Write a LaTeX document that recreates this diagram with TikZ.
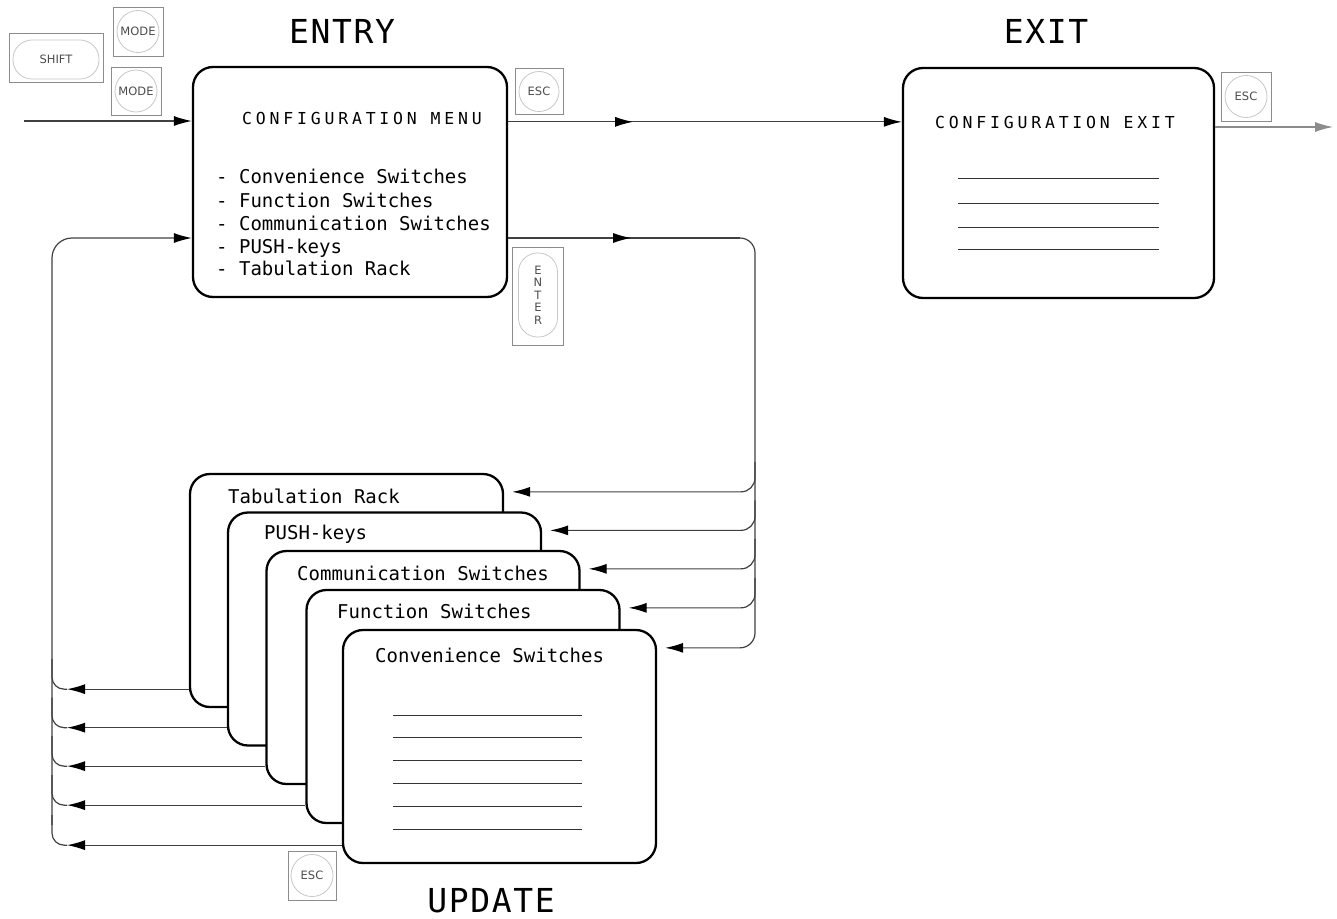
\documentclass[tikz,border=0pt]{standalone}
\usepackage{fontspec}
\setmonofont{DejaVu Sans Mono}
\setsansfont{DejaVu Sans}
\newfontfamily\titlefont{DejaVu Sans Mono}[LetterSpace=5]
\newfontfamily\headfont{DejaVu Sans Mono}[LetterSpace=23]
\usetikzlibrary{arrows.meta,calc,decorations.markings}

\begin{document}
\begin{tikzpicture}[x=1pt,y=-1pt,
  box/.style={draw=black, line width=2.3pt, rounded corners=20pt, fill=white, inner sep=0pt},
  card/.style={box, minimum width=313pt, minimum height=233pt},
  wire/.style={draw=black!75, line width=1.2pt},
  tip/.style={-{Latex[length=18pt,width=10pt,color=black]}},
  midtip/.style={postaction={decorate}, decoration={markings,
      mark=at position #1 with {\arrow{Latex[length=18pt,width=10pt,color=black]}}}},
  keybox/.style={draw=black!45, line width=1pt, inner sep=0pt},
  keycap/.style={draw=black!22, line width=0.8pt, inner sep=0pt,
      font=\sffamily\fontsize{11.5}{13}\selectfont, text=black!70},
  title/.style={font=\titlefont\fontsize{33}{40}\selectfont, anchor=base, inner sep=0pt},
  head/.style={font=\headfont\fontsize{16.5}{20}\selectfont, anchor=base west, inner sep=0pt},
  item/.style={font=\ttfamily\fontsize{19}{23}\selectfont, anchor=base west, inner sep=0pt},
  rule/.style={draw=black!80, line width=1pt}]

\useasboundingbox (0,0) rectangle (1337,918);

% ---------- titles ----------
\node[title] (entrytitle)  at (342,43)  {ENTRY};
\node[title] (exittitle)   at (1046,43) {EXIT};
\node[title] (updatetitle) at (491,912) {UPDATE};

% ---------- configuration menu ----------
\node[box, minimum width=314pt, minimum height=230pt] (menu) at (350,182) {};
\node[head] (menuhead) at (242,124) {CONFIGURATION MENU};
\node[item] (m1) at (216,183) {- Convenience Switches};
\node[item] (m2) at (216,207) {- Function Switches};
\node[item] (m3) at (216,230) {- Communication Switches};
\node[item] (m4) at (216,253) {- PUSH-keys};
\node[item] (m5) at (216,275) {- Tabulation Rack};

% ---------- configuration exit ----------
\node[box, minimum width=311pt, minimum height=230pt] (exit) at (1058.5,183) {};
\node[head] (exithead) at (935,128) {CONFIGURATION EXIT};
\foreach \y in {178,203,227,249} \draw[rule] (958,\y) -- (1159,\y);

% ---------- update cards, back to front ----------
\node[card] (tab)  at (346.5,590.5) {};
\node[item] (tabl) at (228,503) {Tabulation Rack};
\node[card] (push) at (384.5,629) {};
\node[item] (pushl) at (264,539) {PUSH-keys};
\node[card] (comm) at (423,667.5) {};
\node[item] (comml) at (297,580) {Communication Switches};
\node[card] (func) at (463,706.5) {};
\node[item] (funcl) at (337,618) {Function Switches};
\node[card] (conv) at (499.5,746.5) {};
\node[item] (convl) at (375,662) {Convenience Switches};
\foreach \y in {715,737,760,783,806,829} \draw[rule] (393,\y) -- (582,\y);

% ---------- keys ----------
\node[keybox, minimum width=94pt, minimum height=49pt] (shiftkey) at (56,57.5) {};
\node[keycap, rounded corners=19pt, minimum width=86pt, minimum height=39pt] (shiftcap) at (56,59.5) {SHIFT};
\node[keybox, minimum width=50pt, minimum height=49pt] (modekeya) at (138,31.5) {};
\node[keycap, circle, minimum size=42pt] (modecapa) at (138,31.5) {MODE};
\node[keybox, minimum width=50pt, minimum height=48pt] (modekeyb) at (136,91) {};
\node[keycap, circle, minimum size=42pt] (modecapb) at (136,91) {MODE};
\node[keybox, minimum width=48pt, minimum height=46pt] (esckeya) at (539,91.5) {};
\node[keycap, circle, minimum size=40pt] (esccapa) at (539,91.5) {ESC};
\node[keybox, minimum width=51pt, minimum height=98pt] (enterkey) at (538,296) {};
\node[keycap, rounded corners=19pt, minimum width=39pt, minimum height=84pt, align=center,
      font=\sffamily\fontsize{11.5}{12.5}\selectfont] (entercap) at (538,295) {E\\N\\T\\E\\R};
\node[keybox, minimum width=50pt, minimum height=49pt] (esckeyb) at (1246,96.5) {};
\node[keycap, circle, minimum size=42pt] (esccapb) at (1246,96.5) {ESC};
\node[keybox, minimum width=48pt, minimum height=49pt] (esckeyc) at (312,875.5) {};
\node[keycap, circle, minimum size=42pt] (esccapc) at (312,875.5) {ESC};

% ---------- connectors ----------
% into the menu
\coordinate (start) at (24,121);
\draw[wire, tip] (start) -- (start -| menu.west);

% ESC: menu -> exit
\coordinate (escout) at ($(menu.north east)+(0,56)$);
\draw[wire, tip, midtip=125pt] (escout) -- (escout -| exit.west);

% ESC: leave the exit screen
\coordinate (leave) at (1333,127);
\draw[wire, draw=black!45, -{Latex[length=18pt,width=10pt,color=black!45]}]
  (leave -| exit.east) -- (leave);

% ENTER: menu -> update cards
\coordinate (rbus) at (755,238);
\coordinate (enterout) at (rbus -| menu.east);
\coordinate (enterturn) at ($(rbus)+(-15,0)$);
\draw[wire, midtip=123pt] (enterout) -- (enterturn);
\foreach \c in {tab,push,comm,func,conv}
  \coordinate (l\c) at ($(\c.north east)+(0,19)$);
\draw[wire, tip, rounded corners=15pt] (enterturn) -- (rbus) -- (lconv -| rbus) -- ($(lconv)+(8,0)$);
\foreach \c in {tab,push,comm,func}
  \draw[wire, tip, rounded corners=14pt] ($(l\c -| rbus)+(0,-30)$) -- (l\c -| rbus) -- ($(l\c)+(8,0)$);

% ESC: update cards -> back to the menu
\coordinate (lbus) at (52,238);
\foreach \c in {tab,push,comm,func,conv}
  \coordinate (r\c) at ($(\c.south west)+(0,-19)$);
\foreach \c in {tab,push,comm,func,conv} {
  \draw[wire, tip] (r\c) -- ($(r\c -| lbus)+(15,0)$);
  \draw[wire, rounded corners=12pt] ($(r\c -| lbus)+(15,0)$) -- (r\c -| lbus) -- ++(0,-30);
}
\draw[wire, tip, rounded corners=20pt] ($(rconv -| lbus)+(0,-20)$) -- (lbus) -- (lbus -| menu.west);

\end{tikzpicture}
\end{document}
